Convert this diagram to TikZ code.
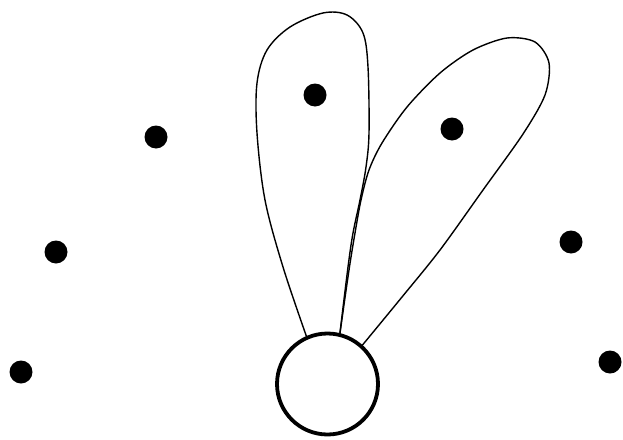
\documentclass[tikz,border=0pt]{standalone}
\begin{document}
\begin{tikzpicture}[x=1pt,y=-1pt,
  dot/.style={circle,fill=black,inner sep=0pt,minimum size=23pt},
  petal/.style={line width=1.4pt,line join=round},
  hub/.style={circle,draw,line width=3.8pt,minimum size=101pt,inner sep=0pt,outer sep=0pt}]
\useasboundingbox (0,0) rectangle (623,439);
\node[hub] (c) at (327.5,384) {};
\node[dot] (d1) at (156,137) {};
\node[dot] (d2) at (56,252) {};
\node[dot] (d3) at (21,372) {};
\node[dot] (d4) at (315,95) {};
\node[dot] (d5) at (452,129) {};
\node[dot] (d6) at (571,242) {};
\node[dot] (d7) at (610,362) {};
\draw[petal] plot[smooth,tension=0.55] coordinates {(c.114) (283,267) (265,200) (257,133) (257,83) (267,50) (290,27) (323,13) (347,15) (363,33) (368,67) (369,133) (366,167) (360,200) (353,233) (348,267) (c.76)};
\draw[petal] plot[smooth,tension=0.5] coordinates {(c.48) (402,297) (440,250) (483,190) (523,134) (545,95) (549,63) (535,42) (507,38) (473,50) (440,73) (407,107) (382,143) (369,170) (361,200) (355,233) (349,270) (c.76)};
\end{tikzpicture}
\end{document}
